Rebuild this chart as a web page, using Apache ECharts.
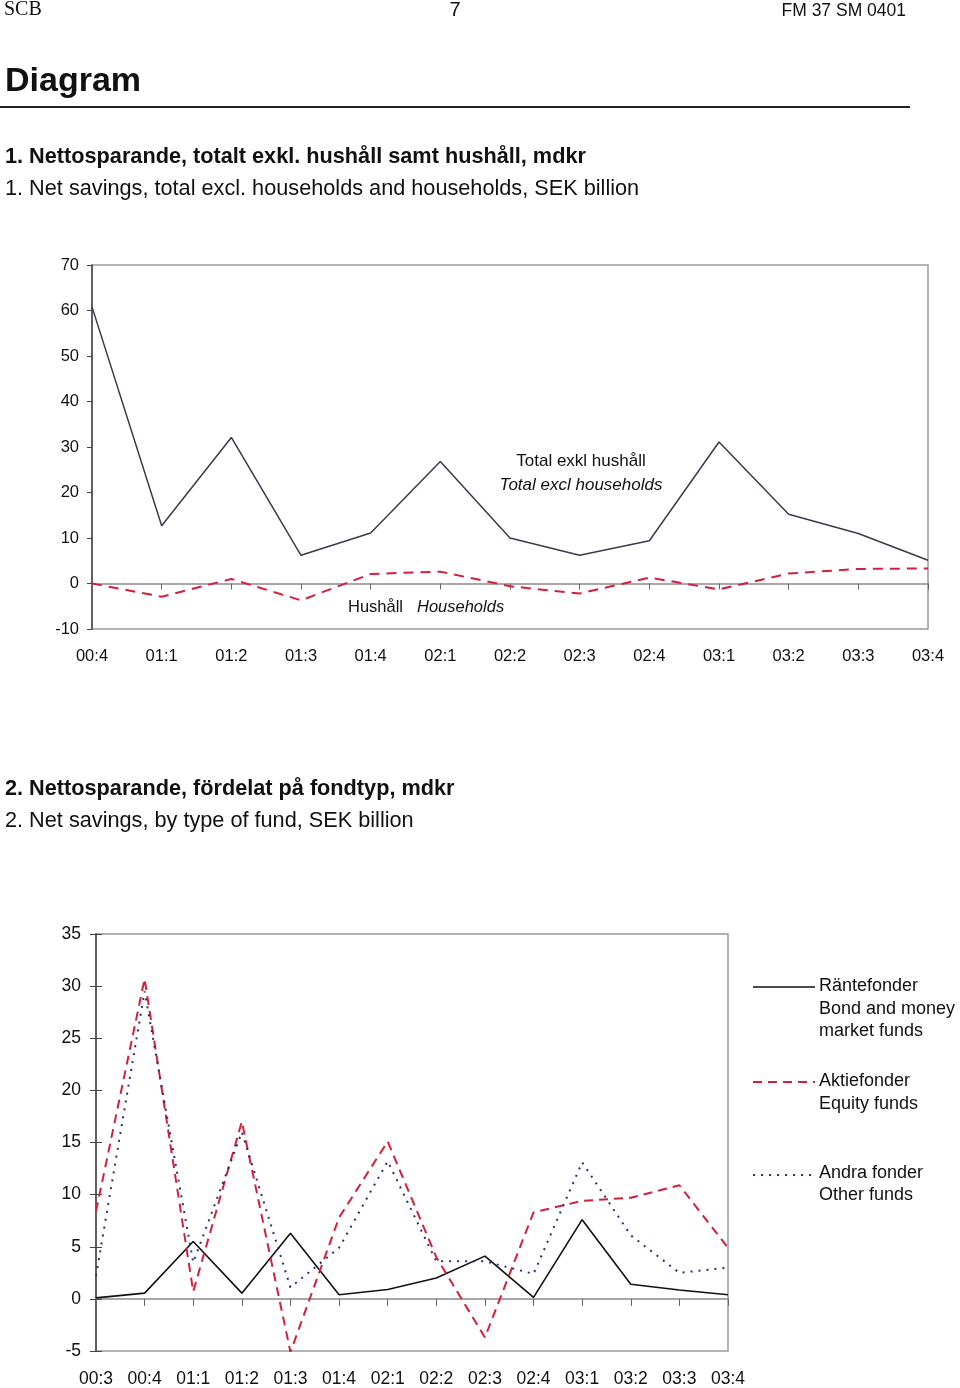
<!DOCTYPE html>
<html>
<head>
<meta charset="utf-8">
<script src="https://cdn.jsdelivr.net/npm/echarts@6/dist/echarts.min.js"></script>
<style>
html,body{margin:0;padding:0;background:#fff;}
#c{width:960px;height:1388px;}
</style>
</head>
<body>
<div id="c"></div>
<script>
// Chart 1 data
const cats1 = ['00:4','01:1','01:2','01:3','01:4','02:1','02:2','02:3','02:4','03:1','03:2','03:3','03:4'];
const totalExcl = [60.8,12.7,32.1,6.2,11.1,26.8,10.0,6.2,9.4,31.1,15.2,11.0,5.1];
const households = [0,-2.9,1.0,-3.7,2.1,2.6,-0.6,-2.2,1.3,-1.3,2.2,3.2,3.3];
// Chart 2 data
const cats2 = ['00:3','00:4','01:1','01:2','01:3','01:4','02:1','02:2','02:3','02:4','03:1','03:2','03:3','03:4'];
const bondFunds = [0.1,0.55,5.5,0.55,6.3,0.4,0.9,2.0,4.1,0.15,7.6,1.4,0.85,0.4];
const equityFunds = [8.4,30.7,0.7,17.0,-5.1,7.8,15.1,4.0,-3.7,8.3,9.4,9.7,10.9,4.9];
const otherFunds = [2.2,29.5,3.5,16.0,1.1,4.9,13.2,3.6,3.6,2.4,13.1,6.1,2.5,3.0];

const FONT = '"Liberation Sans", Arial, sans-serif';
const RED = '#d41f3a';
const NAVY = '#2b2b78';

const chart = echarts.init(document.getElementById('c'), null, {renderer:'canvas'});

function t(x, y, s, font, align) {
  return {type:'text', x:x, y:y, style:{text:s, fill:'#111', font:font + ' ' + FONT, verticalAlign:'middle', align:align || 'left'}};
}

const graphics = [
  {type:'text', x:4, y:10, style:{text:'SCB', fill:'#111', font:'20px "Liberation Serif", serif', verticalAlign:'middle', align:'left'}},
  t(455, 10, '7', '20px', 'center'),
  t(906, 11, 'FM 37 SM 0401', '17.5px', 'right'),
  t(5, 82, 'Diagram', 'bold 34px'),
  {type:'line', shape:{x1:0, y1:107, x2:910, y2:107}, style:{stroke:'#222', lineWidth:2}},
  t(5, 157, '1. Nettosparande, totalt exkl. hushåll samt hushåll, mdkr', 'bold 21.7px'),
  t(5, 189, '1. Net savings, total excl. households and households, SEK billion', '21.7px'),
  t(581, 461, 'Total exkl hushåll', '17px', 'center'),
  t(581, 485, 'Total excl households', 'italic 17px', 'center'),
  t(348, 607, 'Hushåll', '16.5px'),
  t(417, 607, 'Households', 'italic 16.5px'),
  t(5, 789, '2. Nettosparande, fördelat på fondtyp, mdkr', 'bold 21.7px'),
  t(5, 821, '2. Net savings, by type of fund, SEK billion', '21.7px'),
  // legend chart 2
  {type:'line', shape:{x1:753, y1:987, x2:815, y2:987}, style:{stroke:'#111', lineWidth:1.5}},
  t(819, 986, 'Räntefonder', '18px'),
  t(819, 1009, 'Bond and money', '18px'),
  t(819, 1031, 'market funds', '18px'),
  {type:'line', shape:{x1:753, y1:1082, x2:815, y2:1082}, style:{stroke:RED, lineWidth:2, lineDash:[9,6]}},
  t(819, 1081, 'Aktiefonder', '18px'),
  t(819, 1104, 'Equity funds', '18px'),
  {type:'line', shape:{x1:753, y1:1175, x2:815, y2:1175}, style:{stroke:NAVY, lineWidth:2, lineDash:[2,6]}},
  t(819, 1173, 'Andra fonder', '18px'),
  t(819, 1195, 'Other funds', '18px')
];

const option = {
  backgroundColor:'#fff',
  animation:false,
  textStyle:{fontFamily:FONT},
  grid:[
    {left:92, top:265, width:836, height:364, show:true, borderColor:'#9a9a9a', borderWidth:1.5, containLabel:false},
    {left:96, top:934, width:632, height:420, show:true, borderColor:'#9a9a9a', borderWidth:1.5, containLabel:false}
  ],
  xAxis:[
    {type:'category', gridIndex:0, data:cats1, boundaryGap:false,
     axisLine:{onZero:true, lineStyle:{color:'#8a8a8a', width:1.5}},
     axisTick:{show:true, inside:false, length:6, lineStyle:{color:'#666'}},
     axisLabel:{show:false}, splitLine:{show:false}},
    {type:'category', gridIndex:0, data:cats1, boundaryGap:false, position:'bottom',
     axisLine:{show:false, onZero:false}, axisTick:{show:false},
     axisLabel:{show:true, margin:19, color:'#111', fontSize:16.5, fontFamily:FONT, interval:0}, splitLine:{show:false}},
    {type:'category', gridIndex:1, data:cats2, boundaryGap:false,
     axisLine:{onZero:true, lineStyle:{color:'#8a8a8a', width:1.5}},
     axisTick:{show:true, inside:false, length:7, lineStyle:{color:'#666'}},
     axisLabel:{show:false}, splitLine:{show:false}},
    {type:'category', gridIndex:1, data:cats2, boundaryGap:false, position:'bottom',
     axisLine:{show:false, onZero:false}, axisTick:{show:false},
     axisLabel:{show:true, margin:19, color:'#111', fontSize:17.5, fontFamily:FONT, interval:0}, splitLine:{show:false}}
  ],
  yAxis:[
    {type:'value', gridIndex:0, min:-10, max:70, interval:10,
     axisLine:{show:true, lineStyle:{color:'#444', width:1.5}},
     axisTick:{show:true, length:5, lineStyle:{color:'#444'}},
     axisLabel:{margin:13, color:'#111', fontSize:16.5, fontFamily:FONT},
     splitLine:{show:false}},
    {type:'value', gridIndex:1, min:-5, max:35, interval:5,
     axisLine:{show:true, lineStyle:{color:'#444', width:1.5}},
     axisTick:{show:true, length:6, lineStyle:{color:'#444'}},
     axisLabel:{margin:15, color:'#111', fontSize:17.5, fontFamily:FONT},
     splitLine:{show:false}},
    {type:'value', gridIndex:1, min:-5, max:35, interval:5, position:'left',
     axisLine:{show:false}, axisTick:{show:true, inside:true, length:6, lineStyle:{color:'#444'}},
     axisLabel:{show:false}, splitLine:{show:false}}
  ],
  series:[
    {name:'Total exkl hushåll', type:'line', xAxisIndex:0, yAxisIndex:0, data:totalExcl, symbol:'none',
     lineStyle:{color:'#3a3a4e', width:1.5}},
    {name:'Hushåll', type:'line', xAxisIndex:0, yAxisIndex:0, data:households, symbol:'none',
     lineStyle:{color:RED, width:2, type:[10,7]}},
    {name:'Räntefonder', type:'line', xAxisIndex:2, yAxisIndex:1, data:bondFunds, symbol:'none',
     lineStyle:{color:'#111', width:1.6}},
    {name:'Aktiefonder', type:'line', xAxisIndex:2, yAxisIndex:1, data:equityFunds, symbol:'none',
     lineStyle:{color:RED, width:2, type:[9,6]}},
    {name:'Andra fonder', type:'line', xAxisIndex:2, yAxisIndex:1, data:otherFunds, symbol:'none',
     lineStyle:{color:NAVY, width:2, type:[2,6]}}
  ],
  graphic:graphics
};
chart.setOption(option);
</script>
</body>
</html>
